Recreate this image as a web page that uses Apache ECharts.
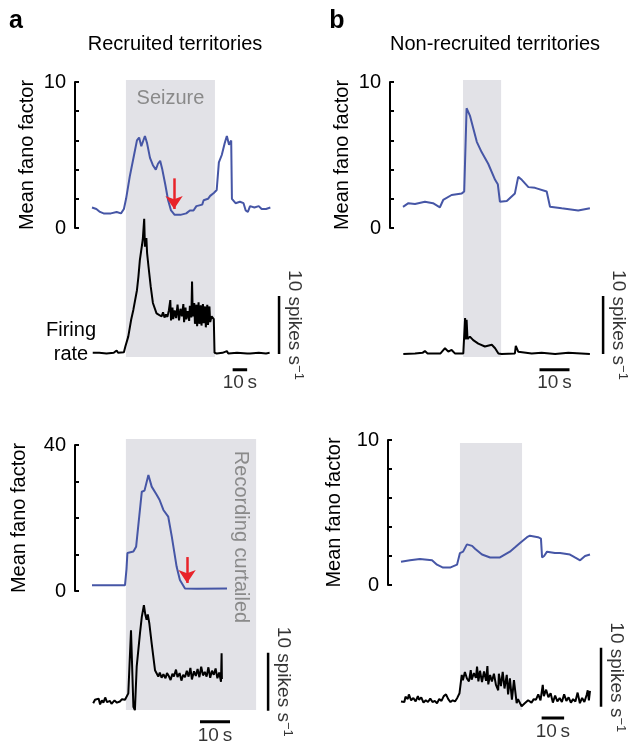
<!DOCTYPE html>
<html><head><meta charset="utf-8">
<script src="https://cdn.jsdelivr.net/npm/echarts@6/dist/echarts.min.js"></script>
<style>html,body{margin:0;padding:0;background:#fff}#c{width:633px;height:745px}</style>
</head><body><div id="c"></div>
<script>
// ---------------- data (time in seconds, fano factor, firing rate in spikes/s) ----------------
const aTopFano = [[0,1.4],[3,1.3],[5.5,1.1],[8,1.0],[13,1.0],[17,1.1],[20,1.0],[22,1.3],[23.5,2.0],[26,3.5],[29,5.0],[31,6.0],[32.5,6.2],[34,5.6],[35,5.7],[36.5,6.3],[38,5.8],[40,4.8],[42,4.3],[44,4.0],[45.5,4.4],[47,4.6],[48.5,4.0],[50.5,3.0],[52.5,1.9],[54.5,1.2],[57,0.9],[61,0.9],[65,1.0],[67.5,1.2],[70,1.2],[72,1.5],[76,1.6],[77,1.9],[80,2.0],[81.5,2.2],[84,2.4],[86,2.6],[87.5,4.5],[89.5,5.0],[91.5,5.8],[93,6.3],[94.5,5.7],[96,6.0],[96.5,2.0],[99,1.7],[102,1.8],[104.5,1.7],[106,1.2],[107.5,1.1],[109,1.5],[112,1.4],[115,1.5],[117,1.3],[120,1.3],[123,1.4]];
const aTopRate = [[0.5,0.2],[5,0.2],[10,0.1],[15,0.2],[17,0.6],[18,0.2],[22,0.3],[23,1.3],[25,3],[27,5.9],[28.5,7.6],[31,11],[32,13.3],[33,16.2],[35,19.7],[36,23.3],[36.5,18.5],[37.5,20],[38,17.4],[39,15],[40.5,11.6],[42,8.8],[44.5,7],[46.5,6.7],[48,6.5],[49,7.2],[50,6.3],[51,6.8],[52,6.4],[53,7.5],[54,9.3],[54.5,5.8],[55.5,8],[56,6],[57,7.5],[58,6.2],[59,8.5],[60,5.8],[61,7.8],[62,6.5],[63,8.6],[63.5,5.5],[64.5,8],[65,6],[66,7.4],[67,5.7],[67.5,8.3],[68.5,6.3],[69,12.5],[69.5,6.5],[70.5,8.8],[71,5.2],[72,8.5],[72.5,4.8],[73.5,8.9],[74,5.2],[75,8.4],[75.5,4.9],[76.5,8.6],[77,5.3],[78,8.2],[78.5,4.6],[79.5,8.5],[80,5],[81,8.2],[81.5,5.5],[82.5,6.5],[84,6],[84.5,0.2],[86,0.1],[90,0.2],[93,0.5],[94,0.1],[100,0.2],[107,0.1],[108,0.4],[109,0.1],[115,0.2],[120,0.1],[122.5,0.2]];
const bTopFano = [[0,1.45],[1.8,1.7],[4,1.65],[7.3,1.8],[10,1.7],[12.3,1.42],[13.4,1.92],[16.2,2.26],[19.6,2.37],[20.4,2.5],[21.2,8.2],[22.3,7.7],[24.6,5.9],[26.2,5.2],[28.4,4.4],[30.7,3.3],[31.6,3.0],[32.3,1.8],[34.6,1.85],[37.3,2.37],[38.4,3.5],[39.6,3.3],[41.8,2.8],[44,2.75],[47.9,2.5],[48.4,2.45],[49,1.46],[52.9,1.35],[58.4,1.2],[62.3,1.35]];
const bTopRate = [[0.1,0],[4,0.1],[6.5,0.2],[7.3,0.5],[8.2,0.1],[12.5,0.1],[12.9,0.4],[14,1.0],[15.1,0.4],[16.2,0.7],[17.3,0.1],[20.1,0.1],[20.4,0.3],[20.7,6.2],[20.9,2.5],[21.2,5.9],[21.5,2.6],[21.8,2.4],[22.3,3.0],[23.4,2.4],[25.1,1.8],[27.3,1.3],[29.6,1.6],[30.7,1.0],[31.8,0.1],[32.9,0],[37.3,0.1],[37.6,1.4],[37.9,1.3],[38.4,0.4],[42.9,0.1],[46.2,0.2],[50.7,0],[55.1,0.2],[62.3,0]];
const aBotFano = [[0,1.6],[11,1.6],[11.5,6],[11.8,10.4],[13.8,10.8],[14.7,12.1],[16.6,27.2],[17.5,27.5],[18.8,31.8],[19.9,28.6],[21.6,26.3],[22.5,25],[23.8,22.2],[25.4,20.4],[26.6,14.9],[28.2,6.7],[29.3,3],[31,0.7],[35,0.6],[45,0.7]];
const aBotRate = [[0.4,0.3],[1,0.9],[1.6,0.6],[2.2,1.1],[2.7,0.1],[3.3,0.8],[3.8,0.4],[4.4,1.3],[5,0.5],[6,0.7],[6.5,0.2],[7.5,0.8],[8.3,0.4],[9.3,0.6],[10,1.0],[11,0.9],[12.1,2],[13,12.9],[13.8,-0.3],[14.3,-0.9],[14.9,6.6],[16,12.4],[16.6,15.2],[17.3,17.2],[17.8,15.5],[18.2,14.7],[18.6,15.6],[19.1,14.1],[19.9,10.6],[21,6],[22.1,4.9],[22.6,5.6],[23.2,4.7],[23.8,5.3],[24.5,4.6],[25,5.5],[25.6,5.0],[26.2,4.3],[26.8,5.4],[27.3,4.9],[28,6.1],[28.5,4.8],[29.2,5.5],[29.8,4.2],[30.4,5.2],[31,4.8],[31.6,5.9],[32.2,4.9],[32.8,6.4],[33.3,4.4],[34,5.8],[34.6,5.0],[35.2,6.2],[35.8,4.8],[36.4,6.6],[37,5.1],[37.6,5.7],[38.2,4.9],[38.8,6.5],[39.4,4.7],[40,5.9],[40.6,5.2],[41.2,6.3],[41.8,4.6],[42.4,5.6],[43,4.0],[43.2,8.9],[43.3,4.5]];
const bBotFano = [[0,1.6],[4,1.7],[8.4,1.8],[13.8,1.7],[16,1.4],[18.7,1.2],[21.8,1.2],[24.9,1.4],[26.2,2.2],[27.6,2.3],[29.3,2.8],[31.6,2.7],[32.9,2.5],[36,2.1],[39.6,1.9],[44,1.9],[48.4,2.3],[50.7,2.6],[52.9,2.9],[56,3.3],[57.3,3.4],[60.9,3.3],[62.2,3.2],[62.7,1.9],[63.6,2.0],[64.9,2.3],[68.4,2.2],[70.7,2.2],[75.1,2.1],[77.3,1.9],[79.6,1.7],[81.8,2.0],[84,2.1]];
const bBotRate = [[0,0.6],[1.5,0.5],[2,1.4],[3,1.0],[3.5,1.8],[4.5,0.8],[5.5,1.2],[6.5,0.6],[7.5,1.5],[8,0.9],[9,1.3],[10,0.4],[11,0.8],[12,0.5],[13,1.1],[14,0.5],[15,0.7],[16,0.3],[17,1.0],[18,0.7],[19,1.5],[20,1.8],[21,1.0],[22,0.5],[23,0.8],[24,0.6],[25,1.2],[26,2.0],[27,5.1],[27.5,4.2],[28.4,5.6],[29.3,4.5],[30.2,4.0],[31,5.9],[31.4,4.3],[32.4,5.4],[33.3,4.6],[33.8,6.5],[34.4,4.0],[35.1,5.8],[36,3.9],[36.9,5.7],[37.8,4.1],[38.4,6.6],[38.8,3.5],[39.6,5.1],[40.4,4.0],[41.3,5.3],[42.2,3.4],[43.2,2.5],[43.5,5.3],[44.4,3.2],[45.2,5.6],[46,2.8],[47,5.1],[47.6,1.8],[48.4,4.5],[49.3,0.9],[50.2,4.2],[51.4,0.3],[52,1.0],[53.6,-0.2],[55,0.3],[56.5,0.8],[58,0.4],[59,1.0],[60,0.9],[61,1.8],[62,0.8],[63,3.4],[63.5,1.5],[64.5,2.6],[65.5,1.3],[66.5,2.0],[67.5,0.4],[68.5,1.6],[69.5,0.6],[70.5,1.2],[71.5,0.5],[72.5,1.8],[73.5,0.7],[74.5,1.3],[75.5,0.4],[76.5,1.0],[77.5,0.6],[78.5,2.1],[79.5,0.3],[80.5,1.2],[81.5,0.5],[82.5,1.7],[83,2.5],[83.5,0.8],[84,2.4]];
// seizure windows [start, end] in s
const aTopSeizure = [23.4, 84.8];
const bTopSeizure = [20, 32.7];
const aBotSeizure = [11.3, 54.7];
const bBotSeizure = [26.2, 53.8];
// red arrows [time, from, to] in fano units
const aTopArrow = [56.6, 3.4, 1.3];
const aBotArrow = [31.7, 9.3, 2.2];
// scale bars / axis ticks
const timeBar = 10;      // s
const rateBar = 10;      // spikes/s
const fanoMaxes = [10, 10, 40, 10];
const fanoIntervals = [2, 2, 10, 2];

// ---------------- layout ----------------
const FONT = '"Liberation Sans", Arial, Helvetica, sans-serif';
const BLUE = '#4656a6', BLACK = '#000000', GRAY = '#e2e2e7', TXTGRAY = '#8a8a8a';

const panels = [
  {left:92, pps:1.45, tMax:131, fano:aTopFano, rate:aTopRate, band:aTopSeizure, arrow:aTopArrow,
   fTop:82, fH:146, off:17, gap:38, base:354, ppu:5.8, rMin:-4, rMax:25, bTop:80, bH:277,
   tb0:97, yb:-2.7, tv:129, rv0:0, seizureLabel:true},
  {left:403, pps:3.0, tMax:68, fano:bTopFano, rate:bTopRate, band:bTopSeizure, arrow:null,
   fTop:82, fH:146, off:13, gap:38, base:354, ppu:5.8, rMin:-4, rMax:12, bTop:80, bH:277,
   tb0:45.5, yb:-2.7, tv:66.7, rv0:0},
  {left:92, pps:3.0, tMax:60, fano:aBotFano, rate:aBotRate, band:aBotSeizure, arrow:aBotArrow,
   fTop:445, fH:146, off:17, gap:46, base:705, ppu:5.8, rMin:-4, rMax:20, bTop:439, bH:271,
   tb0:36, yb:-2.9, tv:58.7, rv0:-1},
  {left:401, pps:2.25, tMax:91, fano:bBotFano, rate:bBotRate, band:bBotSeizure, arrow:null,
   fTop:440, fH:145, off:13, gap:44, base:705, ppu:5.9, rMin:-3.5, rMax:10.5, bTop:443, bH:267,
   tb0:62.5, yb:-2.2, tv:88.9, rv0:-0.3}
];

const grid = [], xAxis = [], yAxis = [], series = [];
panels.forEach((p, i) => {
  const w = p.tMax * p.pps;
  const gB = grid.length, gF = gB + 1, gR = gB + 2;
  grid.push({left:p.left, top:p.bTop, width:w, height:p.bH});
  grid.push({left:p.left, top:p.fTop, width:w, height:p.fH});
  grid.push({left:p.left, top:p.base - p.rMax * p.ppu, width:w, height:(p.rMax - p.rMin) * p.ppu});
  [gB, gF, gR].forEach(g => xAxis.push({gridIndex:g, type:'value', min:0, max:p.tMax, show:false}));
  yAxis.push({gridIndex:gB, type:'value', min:0, max:1, show:false});
  const fMax = fanoMaxes[i];
  yAxis.push({gridIndex:gF, type:'value', min:0, max:fMax, interval:fanoIntervals[i], position:'left', offset:p.off,
    axisLine:{show:true, onZero:false, lineStyle:{color:BLACK, width:2}},
    axisTick:{show:true, inside:true, length:4, lineStyle:{color:BLACK, width:2}},
    axisLabel:{fontSize:20, color:BLACK, fontFamily:FONT, margin:9,
      formatter: v => (v === 0 || v === fMax) ? String(v) : ''},
    splitLine:{show:false},
    name:'Mean fano factor', nameLocation:'middle', nameGap:p.gap,
    nameTextStyle:{fontSize:20, color:BLACK, fontFamily:FONT}});
  yAxis.push({gridIndex:gR, type:'value', min:p.rMin, max:p.rMax, show:false});

  // seizure band
  series.push({type:'line', xAxisIndex:gB, yAxisIndex:gB, data:[[p.band[0], 0.5]], symbol:'none', silent:true, z:0,
    lineStyle:{width:0},
    markArea:{silent:true, itemStyle:{color:GRAY},
      label:{show:!!p.seizureLabel, position:'insideTop', distance:8, formatter:'Seizure', color:TXTGRAY, fontSize:20, fontFamily:FONT},
      data:[[{xAxis:p.band[0]}, {xAxis:p.band[1]}]]}});
  // fano factor
  const fs = {type:'line', xAxisIndex:gF, yAxisIndex:gF, data:p.fano, symbol:'none', silent:true, z:3,
    lineStyle:{color:BLUE, width:2}};
  if (p.arrow) {
    fs.markLine = {silent:true, symbol:['none','arrow'], symbolSize:[13,13], label:{show:false},
      lineStyle:{color:'#e8232a', width:2.5, type:'solid'},
      data:[[{coord:[p.arrow[0], p.arrow[1]]}, {coord:[p.arrow[0], p.arrow[2]]}]]};
  }
  series.push(fs);
  // firing rate
  series.push({type:'line', xAxisIndex:gR, yAxisIndex:gR, data:p.rate, symbol:'none', silent:true, z:3,
    lineStyle:{color:BLACK, width:2}});
  // time scale bar
  series.push({type:'line', xAxisIndex:gR, yAxisIndex:gR, data:[[p.tb0, p.yb], [p.tb0 + timeBar, p.yb]],
    symbol:'none', silent:true, z:3, lineStyle:{color:BLACK, width:3}});
  series.push({type:'scatter', xAxisIndex:gR, yAxisIndex:gR, data:[[p.tb0 + timeBar / 2, p.yb]], symbolSize:0, silent:true,
    label:{show:true, position:'bottom', distance:4, formatter:'10\u2009s', color:BLACK, fontSize:19, fontFamily:FONT}});
  // rate scale bar
  series.push({type:'line', xAxisIndex:gR, yAxisIndex:gR, data:[[p.tv, p.rv0], [p.tv, p.rv0 + rateBar]],
    symbol:'none', silent:true, z:3, lineStyle:{color:BLACK, width:2.5}});
  series.push({type:'scatter', xAxisIndex:gR, yAxisIndex:gR, data:[[p.tv, p.rv0 + rateBar / 2]], symbolSize:0, silent:true,
    label:{show:true, position:'right', distance:15, rotate:-90, align:'center', verticalAlign:'middle',
      formatter:'{n|10 spikes s}{s|\u22121}', color:BLACK, fontFamily:FONT,
      rich:{n:{fontSize:19, lineHeight:22, fontFamily:FONT, color:BLACK},
            s:{fontSize:13, lineHeight:13, verticalAlign:'top', fontFamily:FONT, color:BLACK}}}});
});

const txt = (x, y, text, o) => Object.assign({type:'text', x, y, z:100, silent:true,
  style:Object.assign({text, fill:BLACK, font:'20px ' + FONT, align:'center', verticalAlign:'middle'}, o || {})});
const graphic = {elements:[
  txt(16, 21, 'a', {font:'bold 25px ' + FONT}),
  txt(337, 21, 'b', {font:'bold 25px ' + FONT}),
  txt(175, 44, 'Recruited territories'),
  txt(495, 44, 'Non-recruited territories'),
  txt(71, 342, 'Firing\nrate', {lineHeight:24}),
  Object.assign(txt(241, 537, 'Recording curtailed', {fill:TXTGRAY}), {rotation:-Math.PI / 2})
]};

const chart = echarts.init(document.getElementById('c'), null, {renderer:'canvas'});
chart.setOption({animation:false, backgroundColor:'#ffffff', textStyle:{fontFamily:FONT},
  grid, xAxis, yAxis, series, graphic});
</script>
</body></html>
